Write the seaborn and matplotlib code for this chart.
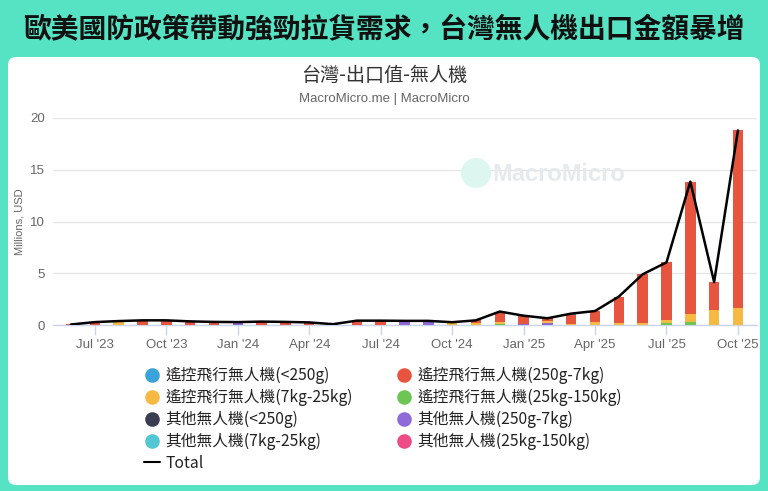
import numpy as np
import pandas as pd
import matplotlib
matplotlib.use("Agg")
import matplotlib.pyplot as plt
import seaborn as sns
from matplotlib.patches import FancyBboxPatch, Circle
from matplotlib.lines import Line2D

# ---------------- data ----------------
months = ["2023-06", "2023-07", "2023-08", "2023-09", "2023-10", "2023-11", "2023-12",
          "2024-01", "2024-02", "2024-03", "2024-04", "2024-05", "2024-06", "2024-07",
          "2024-08", "2024-09", "2024-10", "2024-11", "2024-12", "2025-01", "2025-02",
          "2025-03", "2025-04", "2025-05", "2025-06", "2025-07", "2025-08", "2025-09",
          "2025-10"]

rc_lt250 = [0, 0, 0, 0, 0, 0, 0, 0, 0, 0, 0, 0, 0, 0, 0, 0, 0, 0, 0, 0, 0,
            0.15, 0, 0, 0, 0, 0, 0, 0]
rc_250_7 = [0.05, 0.28, 0, 0.45, 0.45, 0.35, 0.30, 0, 0.33, 0.30, 0.25, 0.08, 0.42, 0.42,
            0, 0, 0.05, 0.25, 1.05, 0.85, 0.30, 0.90, 1.05, 2.55, 4.70, 5.60, 12.75, 2.70,
            17.20]
rc_7_25 = [0, 0, 0.38, 0, 0, 0, 0, 0, 0, 0, 0, 0, 0, 0, 0, 0, 0.22, 0.20, 0.15, 0, 0.15,
           0.05, 0.30, 0.20, 0.20, 0.30, 0.80, 1.45, 1.60]
rc_25_150 = [0, 0, 0, 0, 0, 0, 0, 0, 0, 0, 0, 0, 0, 0, 0, 0, 0, 0, 0.10, 0, 0, 0, 0, 0,
             0, 0.15, 0.30, 0, 0]
ot_lt250 = [0] * 29
ot_250_7 = [0, 0, 0, 0, 0, 0, 0, 0.28, 0, 0, 0, 0, 0, 0, 0.40, 0.40, 0, 0, 0, 0.05,
            0.20, 0, 0, 0, 0, 0, 0, 0, 0]
ot_7_25 = [0] * 29
ot_25_150 = [0] * 29

series_names = ["遙控飛行無人機(<250g)", "遙控飛行無人機(250g-7kg)",
                "遙控飛行無人機(7kg-25kg)", "遙控飛行無人機(25kg-150kg)",
                "其他無人機(<250g)", "其他無人機(250g-7kg)",
                "其他無人機(7kg-25kg)", "其他無人機(25kg-150kg)"]
series_values = [rc_lt250, rc_250_7, rc_7_25, rc_25_150,
                 ot_lt250, ot_250_7, ot_7_25, ot_25_150]
series_colors = ["#3BA3DB", "#E8553F", "#F6B941", "#6DC553",
                 "#3A3D52", "#8F6BD9", "#52C7D2", "#EC4B86"]

tick_labels = ["Jul '23", "Oct '23", "Jan '24", "Apr '24", "Jul '24", "Oct '24",
               "Jan '25", "Apr '25", "Jul '25", "Oct '25"]
tick_months = ["2023-07", "2023-10", "2024-01", "2024-04", "2024-07", "2024-10",
               "2025-01", "2025-04", "2025-07", "2025-10"]

# ---------------- build ----------------
idx = np.arange(len(months))
rows = []
for name, vals in zip(series_names, series_values):
    for i, v in zip(idx, vals):
        rows.append({"x": i, "series": name, "value": v})
df = pd.DataFrame(rows)
total = np.sum(np.array(series_values, dtype=float), axis=0)

sns.set_theme(style="white")
plt.rcParams["font.family"] = ["Noto Sans CJK TC", "DejaVu Sans"]
LAT = ["Liberation Sans", "DejaVu Sans"]

W, H = 768, 491
fig = plt.figure(figsize=(W / 100, H / 100), dpi=100)
GREEN = "#55E3C3"
fig.patch.set_facecolor(GREEN)

panel = FancyBboxPatch((8, 6), 752, 428, boxstyle="round,pad=0,rounding_size=8",
                       transform=None, facecolor="white", edgecolor="none", zorder=0)
fig.add_artist(panel)

fig.text(0.5, 1 - 30 / H, "歐美國防政策帶動強勁拉貨需求，台灣無人機出口金額暴增",
         ha="center", va="center", fontsize=20, fontweight="bold", color="#111111")
fig.text(0.5, 1 - 75 / H, "台灣-出口值-無人機", ha="center", va="center",
         fontsize=13.8, color="#333333")
fig.text(0.5, 1 - 99 / H, "MacroMicro.me | MacroMicro", ha="center", va="center",
         fontsize=9.5, color="#666666", family=LAT)

ax = fig.add_axes([53 / W, 1 - 325 / H, (757 - 53) / W, (325 - 118) / H])
ax.set_facecolor("none")

# watermark
fig.add_artist(Circle((476, H - 173), 15, transform=None, facecolor="#DDF7F0",
                      edgecolor="none", zorder=1))
fig.text(492 / W, 1 - 174 / H, "MacroMicro", ha="left", va="center", fontsize=17,
         color="#E6EAEC", fontweight="bold", family=LAT, zorder=1)

palette = dict(zip(series_names, series_colors))
sns.histplot(data=df, x="x", weights="value", hue="series", hue_order=series_names,
             palette=palette, multiple="stack", discrete=True, shrink=0.44,
             linewidth=0, alpha=1, legend=False, ax=ax, zorder=3)
sns.lineplot(x=idx, y=total, color="black", linewidth=1.8, ax=ax, zorder=4)

ax.set_xlim(-0.756, 28.8)
ax.set_ylim(0, 20)
ax.set_yticks([0, 5, 10, 15, 20])
ax.yaxis.grid(True, color="#E6E6E6", linewidth=1)
ax.set_axisbelow(True)
for s in ["top", "right", "left"]:
    ax.spines[s].set_visible(False)
ax.spines["bottom"].set_color("#CCD6EB")
ax.spines["bottom"].set_linewidth(1)
ax.set_xticks([months.index(m) for m in tick_months])
ax.set_xticklabels(tick_labels)
ax.tick_params(axis="x", length=7, color="#CCD6EB", width=1, pad=3,
               labelsize=9.5, labelcolor="#666666", bottom=True)
ax.tick_params(axis="y", length=0, pad=6, labelsize=9.5, labelcolor="#666666")
for lab in ax.get_xticklabels() + ax.get_yticklabels():
    lab.set_family(LAT)
ax.set_xlabel("")
ax.set_ylabel("Millions, USD", fontsize=8, color="#666666", labelpad=4, family=LAT)

# legend (row-major order as in reference -> column-major handles)
def dot(c):
    return Line2D([], [], marker="o", linestyle="", markersize=10.5,
                  markerfacecolor=c, markeredgewidth=0)

h = {n: dot(c) for n, c in zip(series_names, series_colors)}
tot = Line2D([], [], color="black", linewidth=1.5)
order = [series_names[0], series_names[2], series_names[4], series_names[6], "Total",
         series_names[1], series_names[3], series_names[5], series_names[7]]
handles = [h.get(n, tot) for n in order]
fig.legend(handles, order, loc="upper left", bbox_to_anchor=(144 / W, 1 - 367 / H),
           ncol=2, frameon=False, fontsize=11.3, handlelength=1.0, handletextpad=0.35,
           columnspacing=2.75, labelspacing=0.3, borderpad=0, borderaxespad=0,
           labelcolor="#222222")

fig.savefig("out.png", dpi=100, facecolor=fig.get_facecolor())
